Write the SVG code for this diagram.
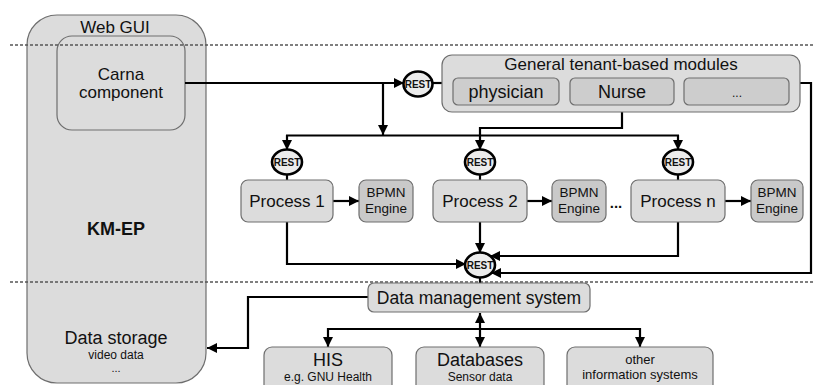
<svg xmlns="http://www.w3.org/2000/svg" width="814" height="385" viewBox="0 0 814 385">
<defs>
<marker id="ah" markerUnits="userSpaceOnUse" markerWidth="10" markerHeight="10" refX="10" refY="5" orient="auto-start-reverse">
<path d="M0,0 L10,5 L0,10 z" fill="#000"/>
</marker>
</defs>
<style>
text{font-family:"Liberation Sans",Arial,sans-serif;fill:#111;text-anchor:middle}
.box{fill:#dcdcdc;stroke:#6e6e6e;stroke-width:1.2}
.dark{fill:#c9c9c9;stroke:#6e6e6e;stroke-width:1.2}
.sub{fill:#cdcdcd;stroke:#6e6e6e;stroke-width:1.2}
.dot{stroke:#555;stroke-width:1.4;stroke-dasharray:3,2;fill:none}
.c{fill:none;stroke:#000;stroke-width:2.2}
.a{fill:none;stroke:#000;stroke-width:2.2;marker-end:url(#ah)}
.rest{fill:#ececec;stroke:#000;stroke-width:2.6}
.rt{font-size:10px;font-weight:bold}
.bp{font-size:13.5px}
</style>
<rect width="814" height="385" fill="#fff"/>
<g id="webgui">
<rect class="box" x="27" y="15" width="179" height="368" rx="30" fill="#dddddd"/>
<text x="115" y="33" font-size="17">Web GUI</text>
<text x="116" y="235" font-size="18" font-weight="bold">KM-EP</text>
<text x="116" y="344" font-size="18">Data storage</text>
<text x="116" y="359" font-size="12">video data</text>
<text x="116" y="372" font-size="11">...</text>
</g>
<g id="carna">
<rect class="box" x="57" y="36" width="128" height="94" rx="15" fill="#d4d4d4"/>
<text x="121" y="80" font-size="17">Carna</text>
<text x="121" y="98" font-size="17">component</text>
</g>
<g id="separators">
<line class="dot" x1="10" y1="45" x2="814" y2="45"/>
<line class="dot" x1="10" y1="282" x2="814" y2="282"/>
</g>
<g id="connectors">
<line class="a" x1="185" y1="83" x2="404" y2="83"/>
<line class="c" x1="432" y1="83" x2="442" y2="83"/>
<line class="a" x1="383" y1="83" x2="383" y2="135"/>
<line class="c" x1="286" y1="135.5" x2="679" y2="135.5"/>
<line class="a" x1="287" y1="135" x2="287" y2="150"/>
<line class="a" x1="678" y1="135" x2="678" y2="150"/>
<polyline class="a" points="622,112 622,128 480,128 480,150"/>
<line class="c" x1="287" y1="175" x2="287" y2="180"/>
<line class="c" x1="480" y1="175" x2="480" y2="180"/>
<line class="c" x1="678" y1="175" x2="678" y2="180"/>
<line class="a" x1="333" y1="201" x2="359" y2="201"/>
<line class="a" x1="527" y1="201" x2="552" y2="201"/>
<line class="a" x1="725" y1="201" x2="751" y2="201"/>
<polyline class="a" points="287,222 287,264 466,264"/>
<line class="a" x1="480" y1="222" x2="480" y2="253"/>
<polyline class="a" points="678,222 678,256 490,256"/>
<polyline class="a" points="800,83 811,83 811,273 491,273"/>
<line class="c" x1="480" y1="277" x2="480" y2="283"/>
<polyline class="a" points="368,297 248,297 248,348 207,348"/>
<line class="a" x1="480" y1="313" x2="480" y2="347" style="marker-start:url(#ah)"/>
<polyline class="a" points="640,329 328,329 328,347"/>
<polyline class="a" points="480,329 640,329 640,347"/>
</g>
<g id="rest-top">
<ellipse class="rest" cx="418" cy="84" rx="14.5" ry="12.5"/>
<text class="rt" x="418" y="87.5">REST</text>
</g>
<g id="modules">
<rect class="box" x="442" y="55" width="358" height="57" rx="10" fill="#dedede"/>
<text x="621" y="70" font-size="17">General tenant-based modules</text>
</g>
<g id="physician">
<rect class="sub" x="453" y="78" width="106" height="27" rx="5"/>
<text x="506" y="97.5" font-size="18">physician</text>
</g>
<g id="nurse">
<rect class="sub" x="570" y="78" width="104" height="27" rx="5"/>
<text x="622" y="97.5" font-size="18">Nurse</text>
</g>
<g id="more">
<rect class="sub" x="684" y="78" width="105" height="27" rx="5"/>
<text x="737" y="97" font-size="12" fill="#555">...</text>
</g>
<g id="rest1">
<ellipse class="rest" cx="287" cy="162" rx="15" ry="12.5"/>
<text class="rt" x="287" y="165.5">REST</text>
</g>
<g id="rest2">
<ellipse class="rest" cx="480" cy="162" rx="15" ry="12.5"/>
<text class="rt" x="480" y="165.5">REST</text>
</g>
<g id="restn">
<ellipse class="rest" cx="678" cy="162" rx="15" ry="12.5"/>
<text class="rt" x="678" y="165.5">REST</text>
</g>
<g id="process1">
<rect class="box" x="241" y="180" width="92" height="42" rx="7"/>
<text x="287" y="207" font-size="17">Process 1</text>
</g>
<g id="bpmn1">
<rect class="dark" x="359" y="180" width="54" height="42" rx="7"/>
<text class="bp" x="386" y="197">BPMN</text>
<text class="bp" x="386" y="213">Engine</text>
</g>
<g id="process2">
<rect class="box" x="433" y="180" width="94" height="42" rx="7"/>
<text x="480" y="207" font-size="17">Process 2</text>
</g>
<g id="bpmn2">
<rect class="dark" x="552" y="180" width="54" height="42" rx="7"/>
<text class="bp" x="579" y="197">BPMN</text>
<text class="bp" x="579" y="213">Engine</text>
</g>
<g id="ellipsis">
<text x="616" y="208" font-size="15" font-weight="bold">...</text>
</g>
<g id="processn">
<rect class="box" x="631" y="180" width="94" height="42" rx="7"/>
<text x="678" y="207" font-size="17">Process n</text>
</g>
<g id="bpmnn">
<rect class="dark" x="751" y="180" width="52" height="42" rx="7"/>
<text class="bp" x="777" y="197">BPMN</text>
<text class="bp" x="777" y="213">Engine</text>
</g>
<g id="rest-bottom">
<ellipse class="rest" cx="480" cy="265" rx="15" ry="12.5"/>
<text class="rt" x="480" y="268.5">REST</text>
</g>
<g id="datamgmt">
<rect class="box" x="368" y="283" width="222" height="29" rx="6"/>
<text x="479" y="303.5" font-size="17.5">Data management system</text>
</g>
<g id="his">
<rect class="box" x="264" y="347" width="128" height="50" rx="8"/>
<text x="328" y="366" font-size="18">HIS</text>
<text x="328" y="381" font-size="12">e.g. GNU Health</text>
</g>
<g id="databases">
<rect class="box" x="416" y="347" width="128" height="50" rx="8"/>
<text x="480" y="366" font-size="18">Databases</text>
<text x="480" y="381" font-size="12">Sensor data</text>
</g>
<g id="other">
<rect class="box" x="567" y="347" width="146" height="50" rx="8"/>
<text x="640" y="364" font-size="13">other</text>
<text x="640" y="379" font-size="13">information systems</text>
</g>
</svg>
